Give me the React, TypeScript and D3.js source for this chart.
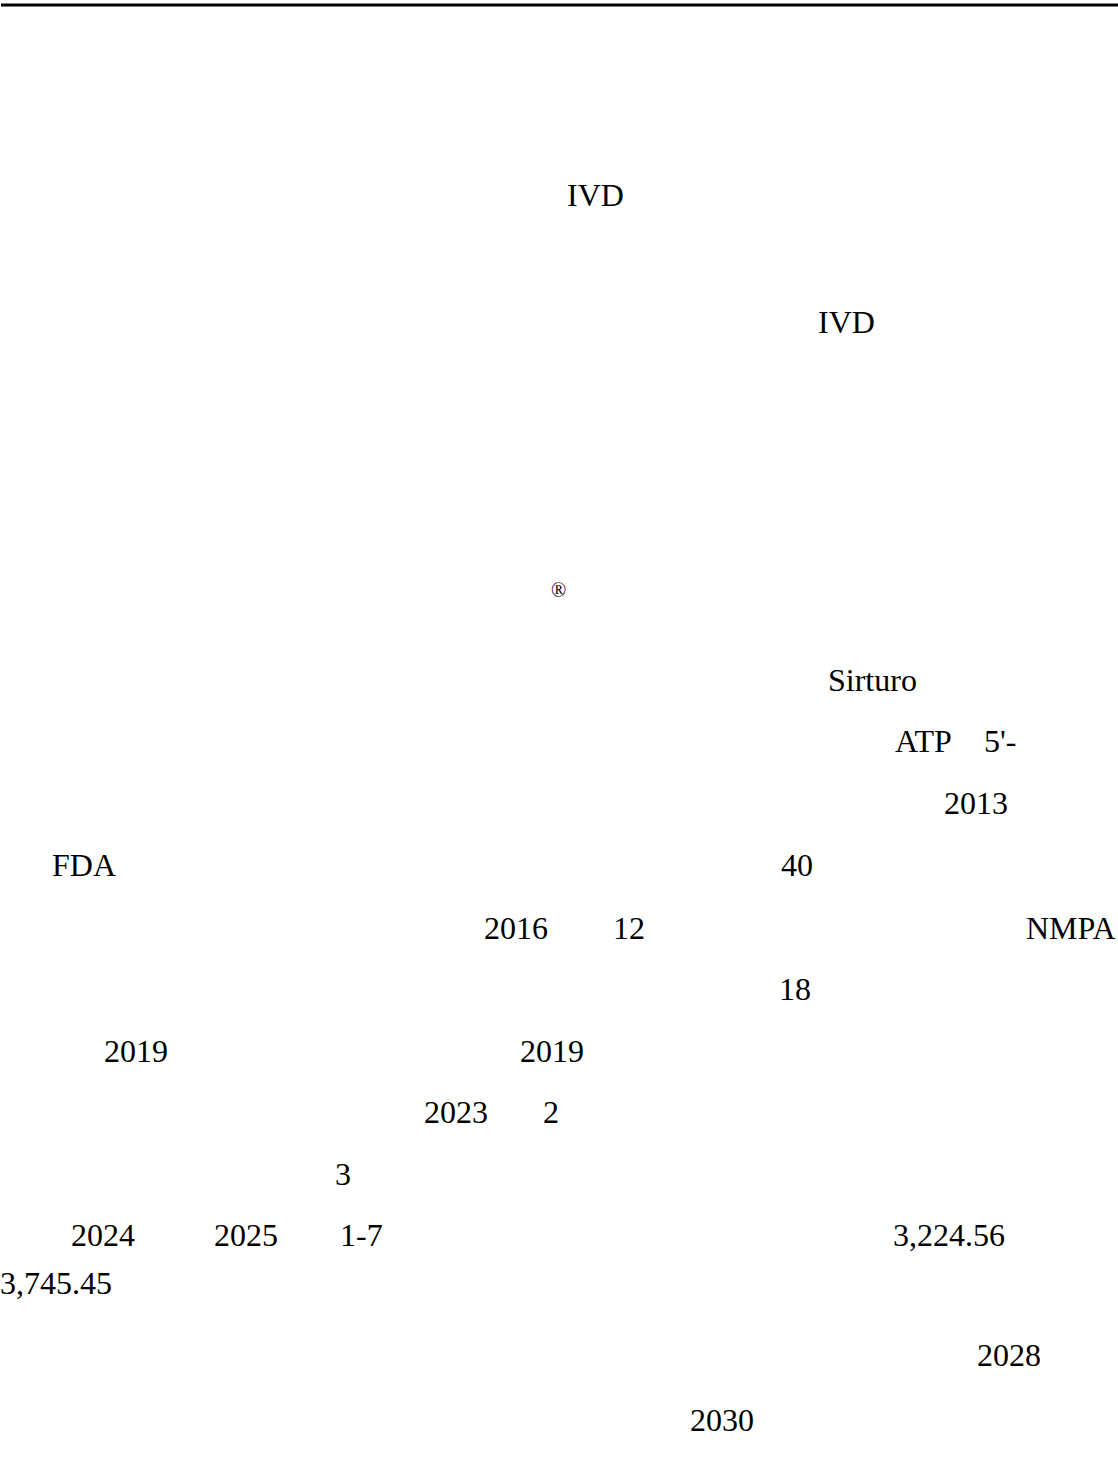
import React, { useEffect, useRef } from 'react';
import * as d3 from 'd3';

// visible latin fragments of the page (CJK glyphs are missing in the source)
const tokens = [
  'IVD', 'IVD', '®', 'Sirturo', 'ATP', "5'-", '2013',
  'FDA', '40', '2016', '12', 'NMPA', '18',
  '2019', '2019', '2023', '2', '3',
  '2024', '2025', '1-7', '3,224.56', '3,745.45', '2028', '2030',
];

// layout: left edge and baseline for each fragment
const tokenX = [
  567, 818, 551, 828, 895, 984, 944,
  52, 781, 484, 613, 1026, 779,
  104, 520, 424, 543, 335,
  71, 214, 340, 893, 0, 977, 690,
];
const tokenBaseline = [
  206, 333, 597, 691, 752, 752, 814,
  876, 876, 939, 939, 939, 1000,
  1062, 1062, 1123, 1123, 1185,
  1246, 1246, 1246, 1246, 1294, 1366, 1431,
];

const W = 1118;
const H = 1474;

const App = () => {
  const svgRef = useRef<SVGSVGElement>(null);

  useEffect(() => {
    document.body.style.margin = '0';
    const svg = d3.select(svgRef.current);
    svg.selectAll('*').remove();

    svg.append('rect').attr('width', W).attr('height', H).attr('fill', '#fff');

    // rule at the top of the page
    svg.append('line')
      .attr('x1', 1).attr('x2', W)
      .attr('y1', 5).attr('y2', 5)
      .attr('stroke', '#000')
      .attr('stroke-width', 3);

    const data = tokens.map((t, i) => ({ t, x: tokenX[i], y: tokenBaseline[i] }));

    svg.selectAll('.tok')
      .data(data)
      .join('text')
      .attr('class', 'tok')
      .attr('x', (d) => d.x)
      .attr('y', (d) => d.y)
      .attr('font-family', '"Liberation Serif", "Times New Roman", serif')
      .attr('font-size', (d) => (d.t === '®' ? 20 : 32))
      .attr('fill', '#000')
      .text((d) => d.t);
  }, []);

  return (
    <svg
      ref={svgRef}
      width={W}
      height={H}
      style={{ position: 'absolute', left: 0, top: 0, display: 'block' }}
    />
  );
};

export default App;
